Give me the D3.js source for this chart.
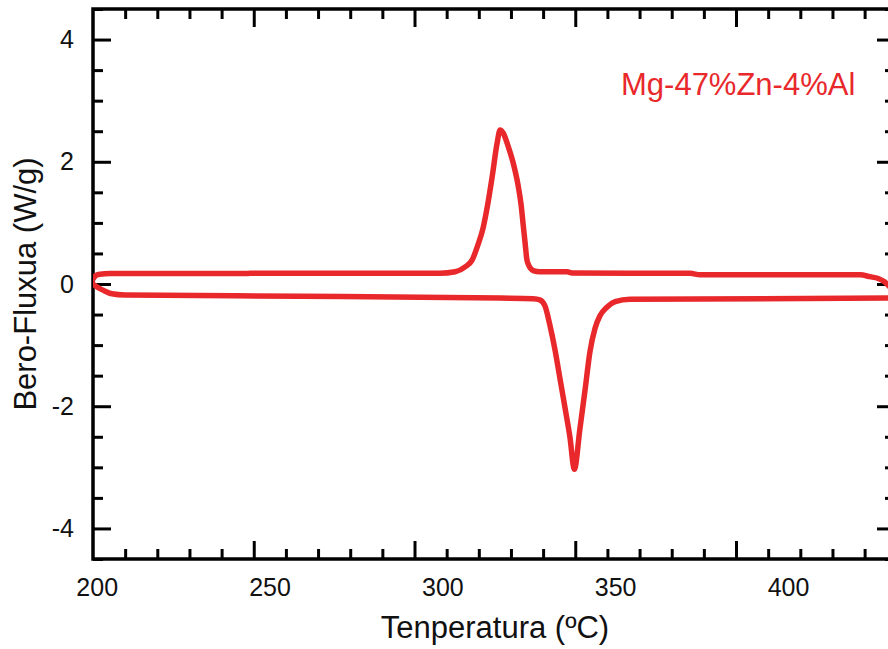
<!DOCTYPE html>
<html>
<head>
<meta charset="utf-8">
<script src="https://cdn.jsdelivr.net/npm/d3@7"></script>
<style>
  html, body { margin: 0; padding: 0; background: #fff; }
  svg { display: block; }
  text { font-family: "Liberation Sans", Arial, sans-serif; }
</style>
</head>
<body>
<svg id="chart" width="888" height="649"></svg>
<script>
// DSC trace, Mg-47%Zn-4%Al: heating (endothermic dip) and cooling (exothermic peak)
const seriesLabel = "Mg-47%Zn-4%Al";
const xTitle = "Tenperatura (ºC)";
const yTitle = "Bero-Fluxua (W/g)";

const xTickLabels = [200, 250, 300, 350, 400];
const yTickLabels = [-4, -2, 0, 2, 4];

// cooling run (upper branch)
const coolTemp = [198.4, 198.93, 199.8, 200.95, 203.85, 242.9, 244.4, 299.3, 303.7, 306.6,
  308.6, 310.3, 311.8, 312.9, 314.4, 315.8, 316.7, 317.6, 319.0, 320.5,
  321.9, 322.8, 323.4, 324.0, 324.4, 324.8, 326.3, 328.2, 336.1, 337.5,
  371.7, 374.6, 420.9, 423.7, 426.1, 427.8, 429.5, 431.3];
const coolFlow = [0.02, 0.08, 0.14, 0.16, 0.17, 0.17, 0.175, 0.175, 0.20, 0.28,
  0.39, 0.64, 0.92, 1.23, 1.75, 2.29, 2.52, 2.47, 2.26, 1.98,
  1.62, 1.29, 0.96, 0.64, 0.42, 0.33, 0.22, 0.20, 0.20, 0.18,
  0.175, 0.15, 0.15, 0.12, 0.09, 0.04, -0.05, -0.16];

// heating run (lower branch)
const heatTemp = [198.4, 198.93, 200.1, 201.8, 204.4, 208.2, 258.8, 316.7, 326.3, 328.2,
  329.7, 331.1, 332.6, 334.1, 335.5, 336.9, 338.2, 339.8, 341.3, 342.7,
  344.2, 345.6, 347.6, 350.0, 354.3, 431.3];
const heatFlow = [0.02, 0.0, -0.05, -0.10, -0.16, -0.18, -0.20, -0.23, -0.24, -0.26,
  -0.36, -0.67, -1.08, -1.57, -2.03, -2.50, -3.03, -2.37, -1.73, -1.11,
  -0.72, -0.52, -0.38, -0.29, -0.25, -0.23];

const red = "#e8282b";
const frame = { left: 93, right: 895, top: 9, bottom: 559 };

const svg = d3.select("#chart");

// temperature scale used for the curves and the axis numbers
const x = d3.scaleLinear().domain([198.93, 430.96]).range([frame.left, frame.right]);
// evenly spaced division marks along the frame
const div = d3.scaleLinear().domain([200, 449.45]).range([frame.left, frame.right]);
const y = d3.scaleLinear().domain([-4.5, 4.5]).range([frame.bottom, frame.top]);

const minorX = d3.range(210, 450, 10).filter(v => v % 50 !== 0);
const majorX = d3.range(250, 450, 50);
const minorY = d3.range(-4.5, 4.51, 0.5).filter(v => Math.abs(v % 2) > 1e-9);
const majorY = d3.range(-4, 4.01, 2);

svg.append("defs").append("clipPath").attr("id", "plot")
  .append("rect")
  .attr("x", frame.left).attr("y", frame.top)
  .attr("width", frame.right - frame.left).attr("height", frame.bottom - frame.top);

const axisStyle = g => {
  g.select(".domain").remove();
  g.selectAll(".tick line").attr("stroke", "#000").attr("stroke-width", 3);
  g.selectAll(".tick text").remove();
};

// bottom and top division marks (pointing inward)
function xMarks(values, len) {
  svg.append("g").attr("transform", `translate(0,${frame.bottom})`)
    .call(d3.axisTop(div).tickValues(values).tickSize(len).tickFormat(""))
    .call(axisStyle);
  svg.append("g").attr("transform", `translate(0,${frame.top})`)
    .call(d3.axisBottom(div).tickValues(values).tickSize(len).tickFormat(""))
    .call(axisStyle);
}
xMarks(minorX, 10);
xMarks(majorX, 18);

// left and right marks (pointing inward)
function yMarks(values, len) {
  svg.append("g").attr("transform", `translate(${frame.left},0)`)
    .call(d3.axisRight(y).tickValues(values).tickSize(len).tickFormat(""))
    .call(axisStyle);
  svg.append("g").attr("transform", `translate(${frame.right},0)`)
    .call(d3.axisLeft(y).tickValues(values).tickSize(len).tickFormat(""))
    .call(axisStyle);
}
yMarks(minorY, 10);
yMarks(majorY, 18);

// frame
svg.append("rect")
  .attr("x", frame.left).attr("y", frame.top)
  .attr("width", frame.right - frame.left).attr("height", frame.bottom - frame.top)
  .attr("fill", "none").attr("stroke", "#000").attr("stroke-width", 3.5);

// axis numbers (plain hyphen for negatives)
const plain = d => String(d);

const xLab = svg.append("g").attr("transform", `translate(0,${frame.bottom})`)
  .call(d3.axisBottom(x).tickValues(xTickLabels).tickSize(0).tickPadding(0).tickFormat(plain));
xLab.select(".domain").remove();
xLab.selectAll(".tick text")
  .attr("y", 37).attr("dy", null)
  .attr("font-size", 25).attr("fill", "#111")
  .attr("font-family", "'Liberation Sans', Arial, sans-serif");

const yLab = svg.append("g").attr("transform", `translate(${frame.left},0)`)
  .call(d3.axisLeft(y).tickValues(yTickLabels).tickSize(0).tickPadding(19).tickFormat(plain));
yLab.select(".domain").remove();
yLab.selectAll(".tick text")
  .attr("font-size", 25).attr("fill", "#111")
  .attr("font-family", "'Liberation Sans', Arial, sans-serif");

// axis titles
svg.append("text")
  .attr("x", 495).attr("y", 638)
  .attr("text-anchor", "middle").attr("font-size", 31).attr("fill", "#111")
  .text(xTitle);

svg.append("text")
  .attr("transform", "translate(36,284) rotate(-90)")
  .attr("text-anchor", "middle").attr("font-size", 31).attr("fill", "#111")
  .text(yTitle);

// curves
const line = d3.line()
  .x(d => x(d[0])).y(d => y(d[1]))
  .curve(d3.curveMonotoneX);

const curves = svg.append("g").attr("clip-path", "url(#plot)");
[[heatTemp, heatFlow], [coolTemp, coolFlow]].forEach(([t, v]) => {
  curves.append("path")
    .datum(d3.zip(t, v))
    .attr("d", line)
    .attr("fill", "none")
    .attr("stroke", red)
    .attr("stroke-width", 5.5)
    .attr("stroke-linejoin", "round")
    .attr("stroke-linecap", "round");
});

// series label
svg.append("text")
  .attr("x", 621).attr("y", 95)
  .attr("font-size", 31).attr("fill", red)
  .text(seriesLabel);
</script>
</body>
</html>
